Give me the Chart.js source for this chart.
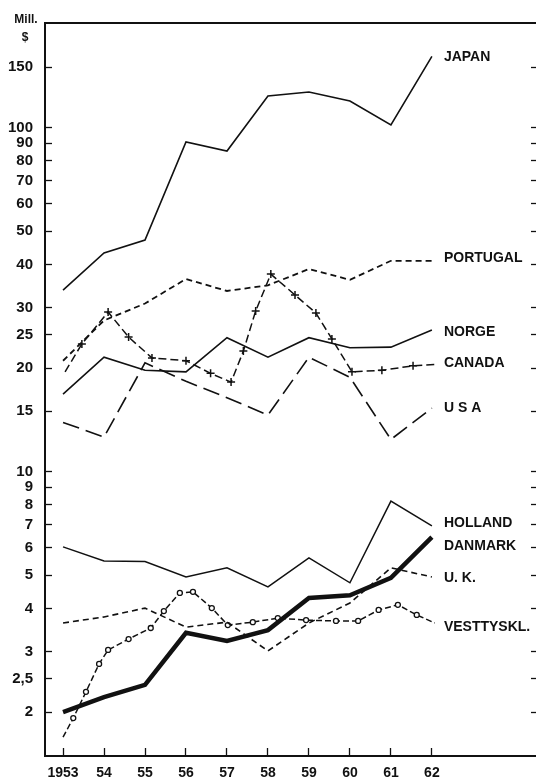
<!DOCTYPE html>
<html>
<head>
<meta charset="utf-8">
<script src="https://cdn.jsdelivr.net/npm/chart.js@4.4.1/dist/chart.umd.min.js"></script>
<style>
  html, body { margin: 0; padding: 0; background: #fff; }
  #wrap { width: 536px; height: 780px; }
</style>
</head>
<body>
<div id="wrap"><canvas id="chart"></canvas></div>
<script>
// Years and tick labels
const years = [1953, 1954, 1955, 1956, 1957, 1958, 1959, 1960, 1961, 1962];
const yearLabels = ['1953', '54', '55', '56', '57', '58', '59', '60', '61', '62'];
const yTicks = [2, 2.5, 3, 4, 5, 6, 7, 8, 9, 10, 15, 20, 25, 30, 40, 50, 60, 70, 80, 90, 100, 150];
const yTickLabels = ['2', '2,5', '3', '4', '5', '6', '7', '8', '9', '10', '15', '20', '25', '30', '40', '50', '60', '70', '80', '90', '100', '150'];

// Mill. $, yearly series
const japan    = [33.7, 43.2, 47.1, 90.8, 85.5, 123.6, 126.9, 119.5, 101.8, 161];
const portugal = [21.0, 27.5, 30.8, 36.3, 33.5, 34.8, 38.8, 36.1, 41.0, 41.0];
const norge    = [16.8, 21.5, 19.7, 19.5, 24.5, 21.5, 24.5, 22.9, 23.0, 25.8];
const usa      = [13.9, 12.6, 20.7, 18.3, 16.4, 14.6, 21.5, 18.8, 12.4, 15.3];
const holland  = [6.04, 5.5, 5.48, 4.94, 5.25, 4.62, 5.61, 4.75, 8.21, 6.95];
const danmark  = [2.0, 2.21, 2.40, 3.40, 3.22, 3.46, 4.29, 4.37, 4.91, 6.45];
const uk       = [3.63, 3.78, 4.01, 3.53, 3.65, 3.01, 3.63, 4.15, 5.25, 4.94];

// Canada and Vesttyskl. have extra (half-year) points
const canadaX = [1953.05, 1953.46, 1954.1, 1954.6, 1955.17, 1956.0, 1956.6, 1957.1, 1957.4, 1957.7,
                 1958.07, 1958.66, 1959.17, 1959.56, 1960.05, 1960.78, 1961.54, 1962.1];
const canadaY = [19.5, 23.5, 29.1, 24.6, 21.4, 21.0, 19.3, 18.2, 22.4, 29.3,
                 37.5, 32.6, 28.9, 24.3, 19.5, 19.7, 20.3, 20.5];
const germanyX = [1953, 1953.25, 1953.56, 1953.88, 1954.1, 1954.6, 1955.14, 1955.46, 1955.85, 1956.17,
                  1956.63, 1957.02, 1957.63, 1958.24, 1958.93, 1959.66, 1960.2, 1960.7, 1961.17, 1961.63, 1962.07];
const germanyY = [1.69, 1.92, 2.29, 2.76, 3.03, 3.26, 3.51, 3.93, 4.44, 4.47,
                  4.01, 3.58, 3.65, 3.75, 3.70, 3.68, 3.68, 3.96, 4.10, 3.83, 3.63];

// Country names at the right and the value they sit at
const seriesNames = ['JAPAN', 'PORTUGAL', 'NORGE', 'CANADA', 'U S A', 'HOLLAND', 'DANMARK', 'U. K.', 'VESTTYSKL.'];
const nameAt = [160, 41.8, 25.5, 20.7, 15.3, 7.09, 6.08, 4.91, 3.53];

const ink = '#111';
const pts = (xs, ys) => xs.map((x, i) => ({ x, y: ys[i] }));
const endsHidden = r => ctx => (ctx.dataIndex === 0 || ctx.dataIndex === ctx.dataset.data.length - 1) ? 0 : r;

const line = (data, width, dash) => ({
  data, borderColor: ink, borderWidth: width, borderDash: dash || [],
  pointRadius: 0, tension: 0, fill: false
});

// fixed axis box sizes, no extra label padding around the plot
const fixBox = (w, h) => s => {
  if (w !== null) s.width = w;
  if (h !== null) s.height = h;
  s.paddingTop = s.paddingBottom = s.paddingLeft = s.paddingRight = 0;
};

const annotate = {
  id: 'annotate',
  afterDraw(chart) {
    const { ctx, scales } = chart;
    ctx.save();
    ctx.fillStyle = ink;
    ctx.textBaseline = 'middle';
    ctx.font = 'bold 14px "Liberation Sans", Arial, sans-serif';
    const x = scales.x.getPixelForValue(years[years.length - 1]) + 12;
    seriesNames.forEach((name, i) => ctx.fillText(name, x, scales.y.getPixelForValue(nameAt[i])));
    ctx.font = 'bold 12px "Liberation Sans", Arial, sans-serif';
    ctx.textAlign = 'center';
    ctx.fillText('Mill.', 26, 20);
    ctx.fillText('$', 25, 38);
    ctx.restore();
  }
};

const font = { family: '"Liberation Sans", Arial, sans-serif', weight: 'bold' };

new Chart(document.getElementById('chart'), {
  type: 'line',
  data: {
    datasets: [
      line(pts(years, japan), 1.6),
      line(pts(years, portugal), 1.8, [6, 4]),
      line(pts(years, norge), 1.6),
      {
        ...line(pts(canadaX, canadaY), 1.5, [8, 4]),
        pointStyle: 'cross', pointRadius: endsHidden(4), pointBorderColor: ink, pointBorderWidth: 1.5
      },
      line(pts(years, usa), 1.6, [17, 7]),
      line(pts(years, holland), 1.5),
      line(pts(years, danmark), 4.5),
      line(pts(years, uk), 1.6, [6, 4]),
      {
        ...line(pts(germanyX, germanyY), 1.5, [6, 3]),
        pointStyle: 'circle', pointRadius: endsHidden(2.5), pointBackgroundColor: '#fff',
        pointBorderColor: ink, pointBorderWidth: 1.3
      }
    ]
  },
  options: {
    responsive: true,
    maintainAspectRatio: false,
    animation: false,
    layout: { padding: { top: 23, left: 0, right: 0, bottom: 0 } },
    plugins: { legend: { display: false }, tooltip: { enabled: false } },
    scales: {
      x: {
        type: 'linear', position: 'bottom', bounds: 'data',
        min: 1952.56, max: 1964.54,
        afterBuildTicks: s => { s.ticks = years.map(v => ({ value: v })); },
        afterFit: fixBox(null, 24),
        ticks: { autoSkip: false, maxRotation: 0, padding: 17, color: ink, font: { ...font, size: 14 },
                 callback: (v, i) => yearLabels[i] },
        grid: { drawOnChartArea: false, tickLength: -8, color: ink, tickWidth: 1.3 },
        border: { color: ink, width: 2 }
      },
      x2: {
        type: 'linear', position: 'top', bounds: 'data',
        min: 1952.56, max: 1964.54,
        afterFit: fixBox(null, 0),
        ticks: { display: false },
        grid: { display: false },
        border: { color: ink, width: 2 }
      },
      y: {
        type: 'logarithmic', position: 'left', bounds: 'data',
        min: 1.49, max: 201.4,
        afterBuildTicks: s => { s.ticks = yTicks.map(v => ({ value: v })); },
        afterFit: fixBox(45, null),
        ticks: { autoSkip: false, padding: 19, color: ink, font: { ...font, size: 15 },
                 callback: (v, i) => yTickLabels[i] },
        grid: { drawOnChartArea: false, tickLength: -7, color: ink, tickWidth: 1.3 },
        border: { color: ink, width: 2 }
      },
      yR: {
        type: 'logarithmic', position: 'right', bounds: 'data',
        min: 1.49, max: 201.4,
        afterBuildTicks: s => { s.ticks = yTicks.map(v => ({ value: v })); },
        afterFit: fixBox(0, null),
        ticks: { display: false },
        grid: { drawOnChartArea: false, tickLength: -5, color: ink, tickWidth: 1.3 },
        border: { display: false }
      }
    }
  },
  plugins: [annotate]
});
</script>
</body>
</html>
